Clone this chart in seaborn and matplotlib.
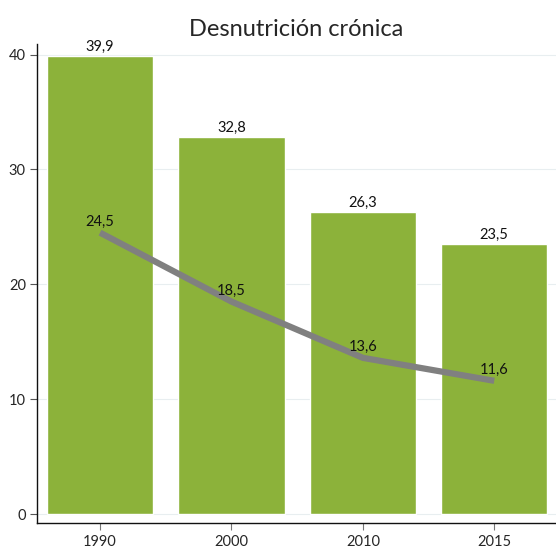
import matplotlib
matplotlib.use("Agg")
import matplotlib.pyplot as plt
import seaborn as sns
import pandas as pd

# datos
anios = ["1990", "2000", "2010", "2015"]
barras = [39.9, 32.8, 26.3, 23.5]
linea = [24.5, 18.5, 13.6, 11.6]

sns.set_theme(style="white")
plt.rcParams['font.family'] = ['Lato', 'DejaVu Sans']

df = pd.DataFrame({"anio": anios, "barra": barras, "linea": linea})

fig = plt.figure(figsize=(5.56, 5.54), dpi=100)
ax = fig.add_axes([0.0665, 0.056, 0.9335, 0.864])

sns.barplot(data=df, x="anio", y="barra", color="#8cb23a", saturation=1,
            width=0.81, ax=ax, zorder=2)
ax.plot(range(len(anios)), linea, color="#808080", lw=4.5, zorder=3,
        solid_capstyle="butt")

for i, v in enumerate(barras):
    ax.text(i, v + 0.2, f"{v:.1f}".replace(".", ","), ha="center", va="bottom",
            fontsize=10.5, color="#111111")
for i, v in enumerate(linea):
    ax.text(i, v + 0.3, f"{v:.1f}".replace(".", ","), ha="center",
            va="bottom", fontsize=10.5, color="#111111", zorder=4)

ax.set_ylim(-0.78, 40.9)
ax.set_xlim(-0.48, 3.47)
ax.set_yticks([0, 10, 20, 30, 40])
ax.yaxis.grid(True, color="#e8eef0", lw=0.8, zorder=0)
ax.set_axisbelow(True)
ax.set_xlabel("")
ax.set_ylabel("")
ax.set_title("Desnutrición crónica", fontsize=17, pad=6)

for s in ["top", "right"]:
    ax.spines[s].set_visible(False)
for s in ["left", "bottom"]:
    ax.spines[s].set_color("#111111")
    ax.spines[s].set_linewidth(1)
ax.tick_params(axis="y", left=True, length=5, width=0.8, color="#555555",
               labelsize=10.5, pad=3)
ax.tick_params(axis="x", bottom=True, length=5, width=0.8, color="#777777",
               labelsize=10.5, pad=4)

plt.savefig("out.png", dpi=100)
